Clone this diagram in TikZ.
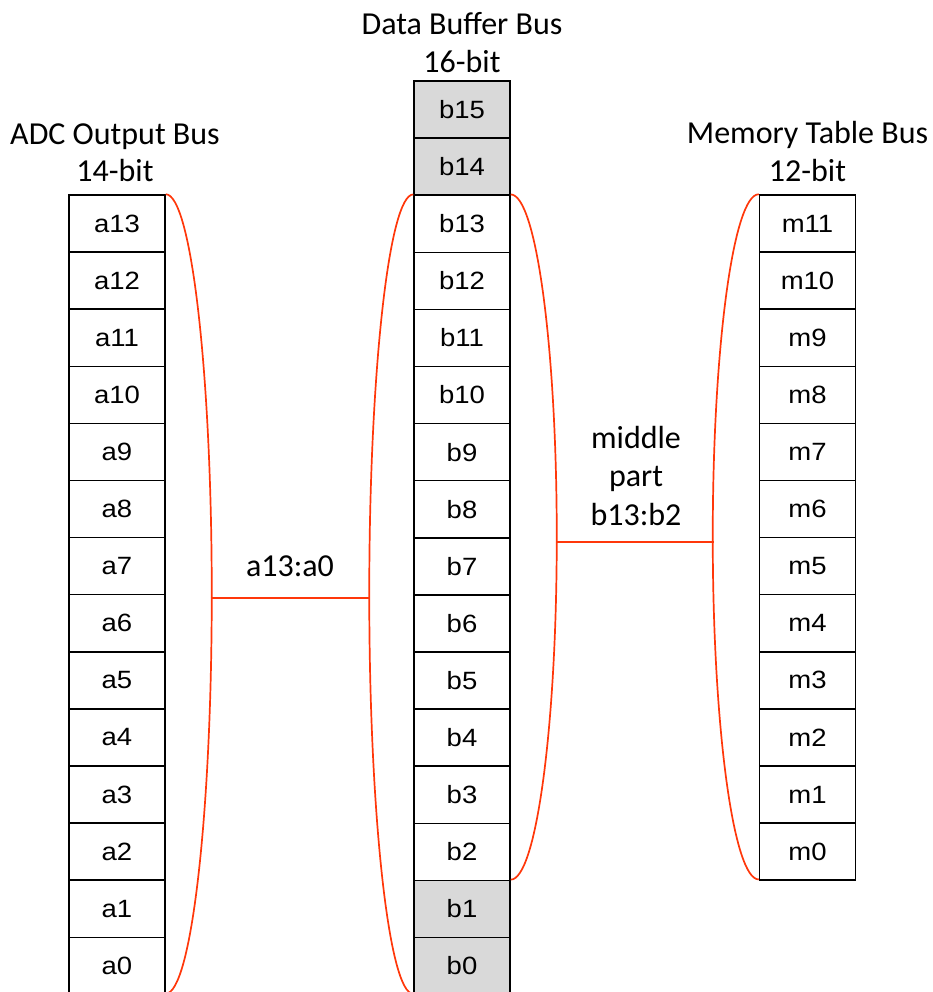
\documentclass[tikz,border=0pt]{standalone}
\usepackage{fontspec}
\setmainfont{Carlito}
\newfontfamily\cellfont[FakeStretch=1.1]{Liberation Sans}
\definecolor{brk}{RGB}{255,55,10}
\definecolor{rsv}{RGB}{217,217,217}
\begin{document}
\begin{tikzpicture}[x=1pt,y=-1pt,
  cell/.style={draw=black, line width=1.5pt, minimum width=96pt, minimum height=57.1pt,
    inner sep=0pt, font=\cellfont\fontsize{25}{29}\selectfont},
  rcell/.style={cell, fill=rsv},
  title/.style={anchor=base, inner sep=0pt, font=\fontsize{32}{38}\selectfont},
  lbl/.style={anchor=base, inner sep=0pt, align=center, font=\fontsize{32}{38.5}\selectfont},
  bracket/.style={draw=brk, line width=1.7pt}]
\useasboundingbox (0,0) rectangle (932,992);
% columns
\foreach \i in {13,...,0}
  \node[cell] (a\i) at (117, {195+(13-\i)*57.1+28.55}) {a\i};
\foreach \i in {13,...,2}
  \node[cell] (b\i) at (462, {81+(15-\i)*57.1+28.55}) {b\i};
\foreach \i in {15,14,1,0}
  \node[rcell] (b\i) at (462, {81+(15-\i)*57.1+28.55}) {b\i};
\foreach \i in {11,...,0}
  \node[cell] (m\i) at (807.5, {195+(11-\i)*57.1+28.55}) {m\i};
% titles
\node[title] (t1a) at (115,145) {ADC Output Bus};
\node[title] (t1b) at (115,181.7) {14-bit};
\node[title] (t2a) at (462,34.3) {Data Buffer Bus};
\node[title] (t2b) at (462,72.3) {16-bit};
\node[title] (t3a) at (807.5,143.5) {Memory Table Bus};
\node[title] (t3b) at (807.5,181.7) {12-bit};
% brackets
\draw[bracket] (a13.north east) arc[start angle=-90, end angle=90, x radius=46, y radius=399.7];
\draw[bracket] (b13.north west) arc[start angle=270, end angle=90, x radius=44, y radius=399.7];
\draw[bracket] (b13.north east) arc[start angle=-90, end angle=90, x radius=46, y radius=342.6];
\draw[bracket] (m11.north west) arc[start angle=270, end angle=90, x radius=46, y radius=342.6];
\coordinate (L1) at (210.5,598);
\coordinate (L2) at (370.2,598);
\coordinate (R1) at (556,542);
\coordinate (R2) at (714.2,542);
\draw[bracket] (L1) -- (L2);
\draw[bracket] (R1) -- (R2);
\node[lbl] (la) at (290,576.7) {a13:a0};
\node[lbl] (lb) at (636,525) {middle\\part\\b13:b2};
\end{tikzpicture}
\end{document}
